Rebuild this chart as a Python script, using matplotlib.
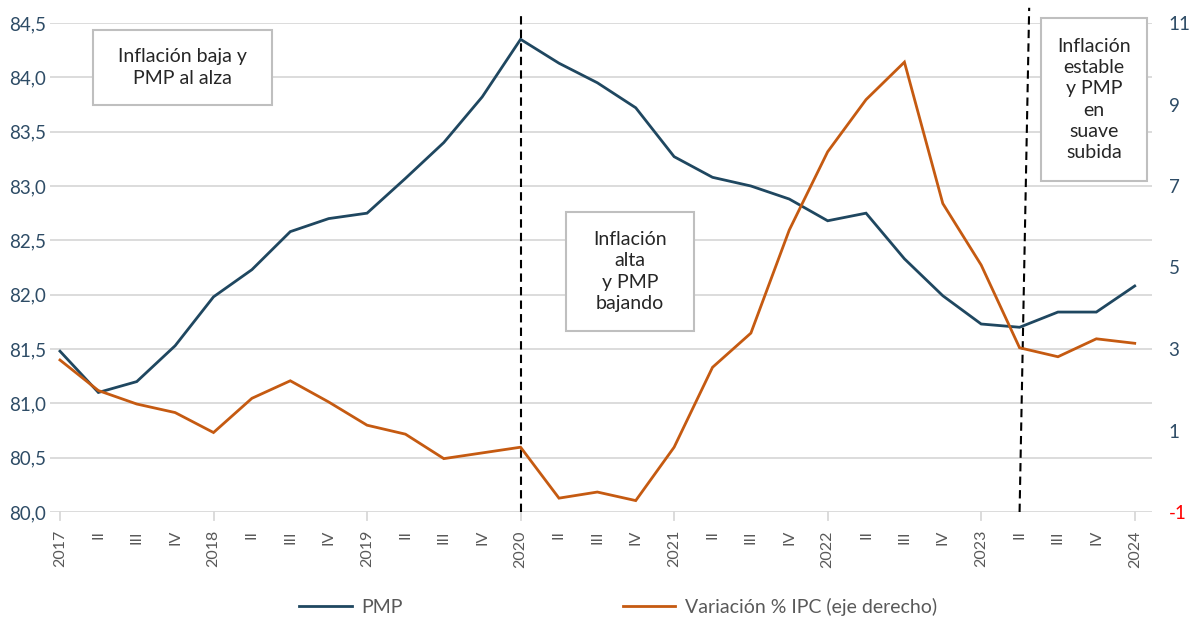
import matplotlib
matplotlib.use("Agg")
import matplotlib.pyplot as plt
import numpy as np
from matplotlib.lines import Line2D

# ---- data ----
tick_labels = ["2017", "II", "III", "IV", "2018", "II", "III", "IV", "2019", "II", "III", "IV",
               "2020", "II", "III", "IV", "2021", "II", "III", "IV", "2022", "II", "III", "IV",
               "2023", "II", "III", "IV", "2024"]
pmp = [81.48, 81.10, 81.20, 81.53, 81.98, 82.23, 82.58, 82.70, 82.75, 83.07, 83.40, 83.82,
       84.35, 84.13, 83.95, 83.72, 83.27, 83.08, 83.00, 82.88, 82.68, 82.75, 82.33, 81.99,
       81.73, 81.70, 81.84, 81.84, 82.08]
ipc = [2.73, 1.98, 1.65, 1.44, 0.95, 1.79, 2.22, 1.70, 1.13, 0.91, 0.31, 0.45,
       0.59, -0.66, -0.51, -0.72, 0.59, 2.55, 3.39, 5.92, 7.84, 9.12, 10.04, 6.57,
       5.06, 3.03, 2.81, 3.25, 3.14]
left_ticks = [80.0, 80.5, 81.0, 81.5, 82.0, 82.5, 83.0, 83.5, 84.0, 84.5]
right_ticks = [-1, 1, 3, 5, 7, 9, 11]
series_names = ["PMP", "Variación % IPC (eje derecho)"]
box_texts = ["Inflación baja y\nPMP al alza",
             "Inflación\nalta\ny PMP\nbajando",
             "Inflación\nestable\ny PMP\nen\nsuave\nsubida"]

plt.rcParams['font.family'] = ['Lato', 'DejaVu Sans']

BLUE = "#1F4760"
ORANGE = "#C55A11"
GRID = "#D9D9D9"
TXT = "#595959"
LBL = "#2E4C66"

fig = plt.figure(figsize=(11.93, 6.19), dpi=100)
ax = fig.add_axes([50/1193, 1-512/619, (1152-50)/1193, (512-23)/619])
ax2 = ax.twinx()

x = np.arange(len(tick_labels))
ax.plot(x, pmp, color=BLUE, lw=2.0, solid_joinstyle='miter', zorder=3)
ax2.plot(x, ipc, color=ORANGE, lw=2.0, solid_joinstyle='miter', zorder=3)

ax.set_xlim(-0.26, 28.45)
ax.set_ylim(80.0, 84.5)
ax2.set_ylim(-1, 11)

ax.set_yticks(left_ticks)
ax.set_yticklabels([f"{v:.1f}".replace(".", ",") for v in left_ticks], color=LBL, fontsize=13.5)
ax2.set_yticks(right_ticks)
ax2.set_yticklabels([str(v) for v in right_ticks], fontsize=13.5)
for lab, v in zip(ax2.get_yticklabels(), right_ticks):
    lab.set_color("#FF0000" if v < 0 else LBL)

ax.set_xticks(x)
ax.set_xticklabels(tick_labels, rotation=90, color=TXT, fontsize=11.5)
ax.tick_params(axis='x', length=0, pad=13)
ax.tick_params(axis='y', length=0, pad=3)
ax2.tick_params(axis='y', length=0, pad=12)

ax.grid(axis='y', color=GRID, lw=1.3)
ax.set_axisbelow(True)
for a in (ax, ax2):
    for s in a.spines.values():
        s.set_visible(False)

# small year tick marks
for i, t in enumerate(tick_labels):
    if t.isdigit():
        ax.plot([i, i], [80.0, 79.93], color=GRID, lw=1.3, clip_on=False)

# dashed separators
ax.plot([12, 12], [80.0, 84.59], color="black", lw=1.5, ls=(0, (4, 2.5)), clip_on=False, zorder=4)
ax.plot([25, 25.25], [80.0, 84.64], color="black", lw=1.5, ls=(0, (4, 2.5)), clip_on=False, zorder=4)

# text boxes
def add_box(x0, y0, x1, y1, text):
    rect = plt.Rectangle((x0/1193, 1-y1/619), (x1-x0)/1193, (y1-y0)/619, transform=fig.transFigure,
                         facecolor="white", edgecolor="#BFBFBF", lw=1.5, zorder=5)
    fig.add_artist(rect)
    fig.text((x0+x1)/2/1193, 1-(y0+y1)/2/619, text, ha='center', va='center', fontsize=14,
             color="#262626", linespacing=1.3, zorder=6)

add_box(93, 30, 272, 105, box_texts[0])
add_box(566, 212, 694, 331, box_texts[1])
add_box(1041, 18, 1147, 181, box_texts[2])

handles = [Line2D([], [], color=BLUE, lw=2.0), Line2D([], [], color=ORANGE, lw=2.0)]
fig.legend(handles, series_names, loc='center', bbox_to_anchor=(618/1193, 1-607/619), ncol=2,
           frameon=False, fontsize=14, labelcolor=TXT, handlelength=2.7, handletextpad=0.5,
           columnspacing=11.3)

fig.savefig("out.png", dpi=100)
